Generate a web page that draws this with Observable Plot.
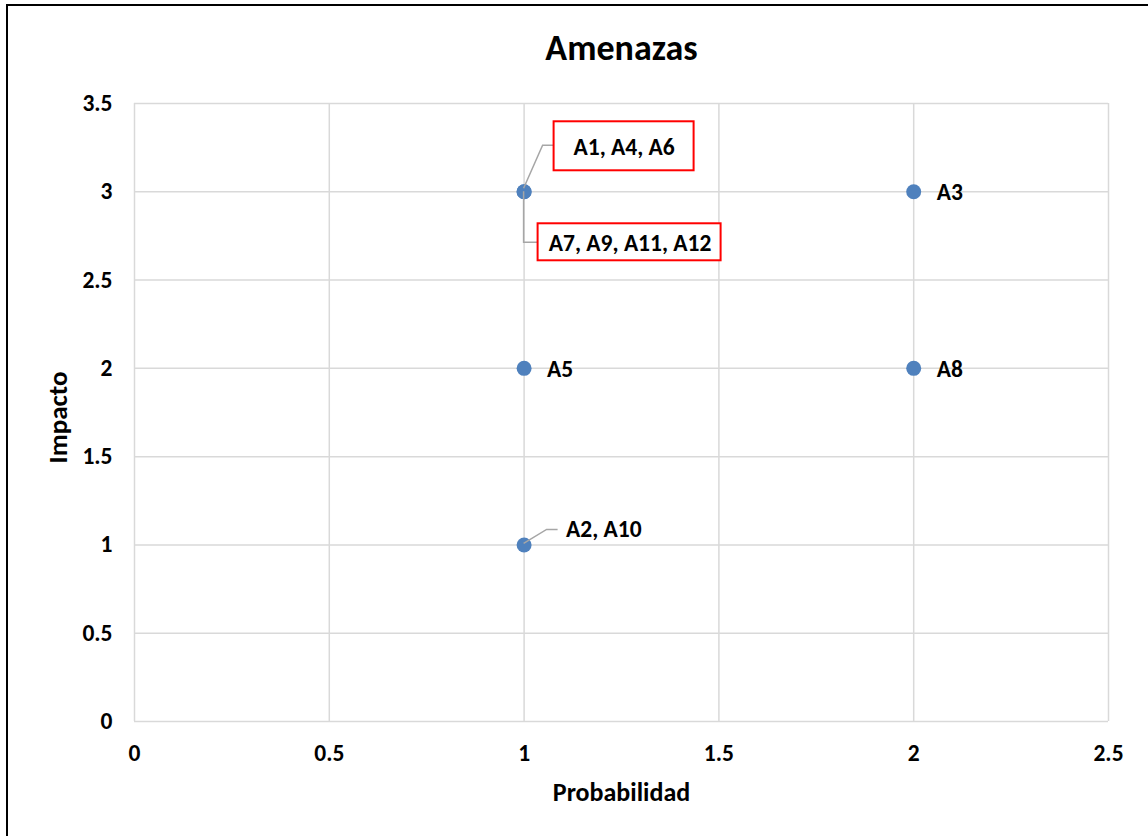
<!DOCTYPE html>
<html><head><meta charset="utf-8">
<script src="https://cdn.jsdelivr.net/npm/d3@7"></script>
<script src="https://cdn.jsdelivr.net/npm/@observablehq/plot@0.6"></script>
<style>
html,body{margin:0;padding:0;background:#fff;overflow:hidden;}
#wrap{position:relative;width:1148px;height:836px;}
#border{position:absolute;left:6px;top:4px;width:1300px;height:1000px;border-left:2px solid #000;border-top:2px solid #000;pointer-events:none;}
</style></head><body><div id="wrap"><div id="chart"></div><div id="border"></div></div>
<script>
// ---- data ----
const labels = ["A1, A4, A6", "A7, A9, A11, A12", "A3", "A5", "A8", "A2, A10"];
const probabilidad = [1, 1, 2, 1, 2, 1];
const impacto = [3, 3, 3, 2, 2, 1];
const xTicks = [0, 0.5, 1, 1.5, 2, 2.5];
const yTicks = [0, 0.5, 1, 1.5, 2, 2.5, 3, 3.5];
const title = "Amenazas";
const xLabel = "Probabilidad";
const yLabel = "Impacto";

// ---- label layout (pixel offsets from each point) ----
const layout = [
  {dx: 100, dy: -44, anchor: "middle", box: [30, -70, 170, -21], leader: [[0, -3], [19, -46], [30, -46]]},
  {dx: 106, dy: 52, anchor: "middle", box: [14, 32, 197, 69], leader: [[0, 0], [0, 51], [14, 51]]},
  {dx: 23, dy: 1, anchor: "start"},
  {dx: 23, dy: 1, anchor: "start"},
  {dx: 23, dy: 1, anchor: "start"},
  {dx: 42, dy: -15, anchor: "start", leader: [[0, -1], [23, -15], [34, -15]]}
];

const font = "Calibri, Carlito, Lato, sans-serif";
const idx = labels.map((_, i) => i);

function annotations(index, scales) {
  const g = d3.create("svg:g");
  layout.forEach((L, i) => {
    const cx = scales.x(probabilidad[i]), cy = scales.y(impacto[i]);
    if (L.leader) {
      g.append("path")
        .attr("d", d3.line()(L.leader.map(([a, b]) => [cx + a, cy + b])))
        .attr("fill", "none").attr("stroke", "#a6a6a6").attr("stroke-width", 1.5);
    }
    if (L.box) {
      const [x0, y0, x1, y1] = L.box;
      g.append("rect")
        .attr("x", cx + x0).attr("y", cy + y0)
        .attr("width", x1 - x0).attr("height", y1 - y0)
        .attr("fill", "#fff").attr("stroke", "#ff0000").attr("stroke-width", 2);
    }
  });
  return g.node();
}

const textMarks = idx.map(i => Plot.text([i], {
  x: d => probabilidad[d], y: d => impacto[d], text: d => labels[d],
  dx: layout[i].dx, dy: layout[i].dy, textAnchor: layout[i].anchor,
  fontSize: 23.5, fontWeight: "bold", fill: "#000"
}));

const chart = Plot.plot({
  width: 1148, height: 836,
  marginLeft: 134, marginRight: 40, marginTop: 103, marginBottom: 115,
  style: {fontFamily: font, background: "transparent", color: "#000"},
  x: {domain: [0, 2.5], axis: null},
  y: {domain: [0, 3.5], axis: null},
  marks: [
    Plot.gridX(xTicks, {stroke: "#d9d9d9", strokeOpacity: 1, strokeWidth: 1.5}),
    Plot.gridY(yTicks, {stroke: "#d9d9d9", strokeOpacity: 1, strokeWidth: 1.5}),
    Plot.axisX(xTicks, {tickSize: 0, tickPadding: 23, fontSize: 23.5, fontWeight: "bold", tickFormat: d => String(d), label: null}),
    Plot.axisY(yTicks, {tickSize: 0, tickPadding: 22, fontSize: 23.5, fontWeight: "bold", tickFormat: d => String(d), label: null}),
    Plot.dot(idx, {x: d => probabilidad[d], y: d => impacto[d], r: 7.5, fill: "#4f81bd", stroke: "none"}),
    annotations,
    ...textMarks,
    Plot.text([title], {frameAnchor: "top", lineAnchor: "middle", textAnchor: "middle", dy: -55, fontSize: 36, fontWeight: "bold", fill: "#000"}),
    Plot.text([xLabel], {frameAnchor: "bottom", lineAnchor: "middle", textAnchor: "middle", dy: 71, fontSize: 26, fontWeight: "bold", fill: "#000"}),
    Plot.text([yLabel], {frameAnchor: "left", lineAnchor: "middle", textAnchor: "middle", dx: -76, dy: 5, rotate: -90, fontSize: 27, fontWeight: "bold", fill: "#000"})
  ]
});
document.getElementById("chart").appendChild(chart);
</script></body></html>
